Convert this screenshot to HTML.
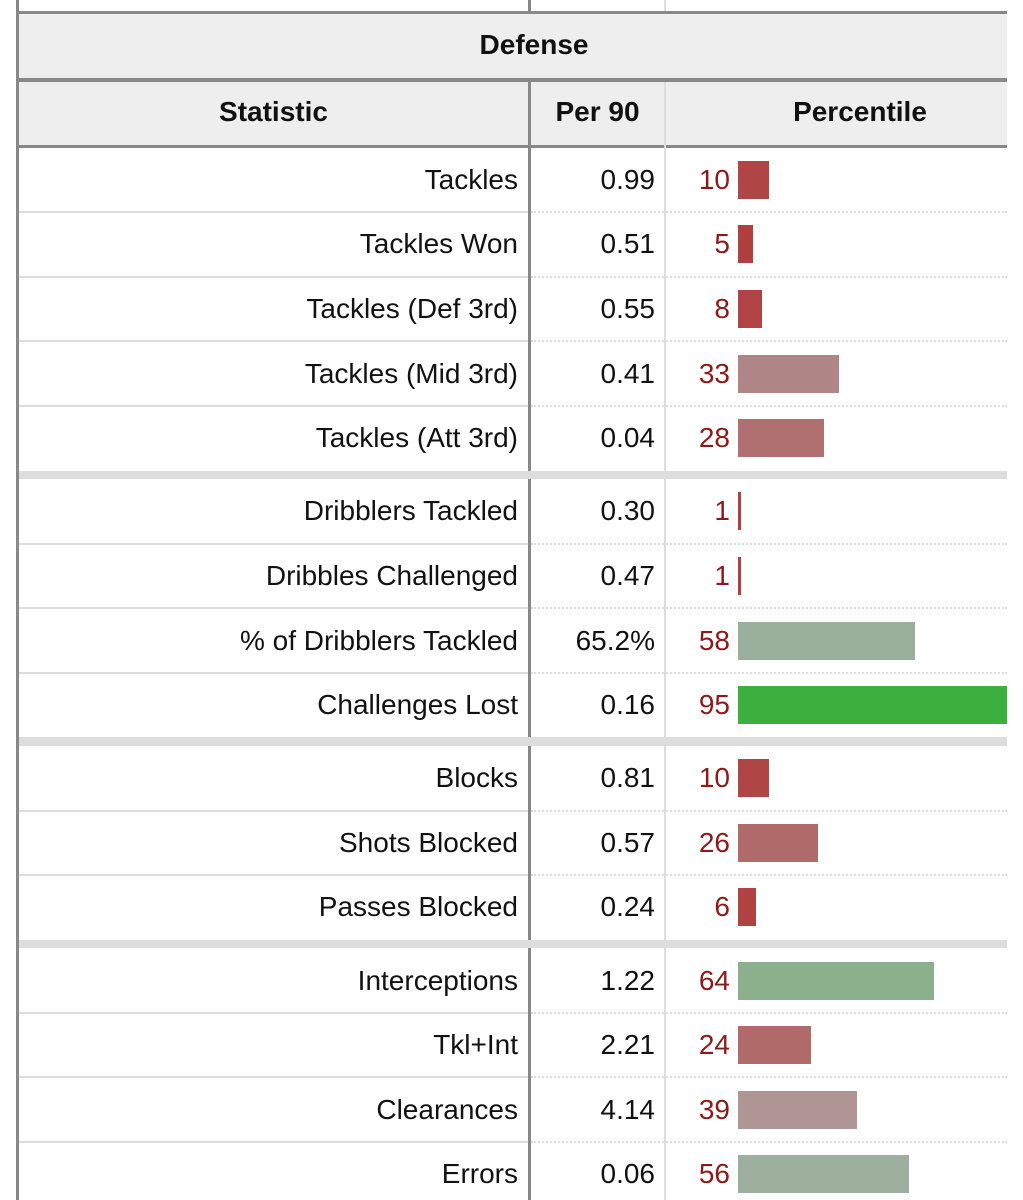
<!DOCTYPE html>
<html><head><meta charset="utf-8"><style>
body{margin:0;width:1023px;height:1200px;overflow:hidden;background:#fff;font-family:"Liberation Sans",sans-serif;position:relative}
.a{position:absolute}
.t{font-size:28px;color:#111;white-space:nowrap;line-height:30px}
</style></head><body>
<div id="root" class="a" style="left:0;top:0;width:1023px;height:1200px">
<div class="a" style="left:16px;top:0;width:3px;height:1200px;background:#888"></div>
<div class="a" style="left:528px;top:0;width:3px;height:12px;background:#888"></div>
<div class="a" style="left:664px;top:0;width:2px;height:12px;background:#ddd"></div>
<div class="a" style="left:16px;top:11px;width:991px;height:3px;background:#888"></div>
<div class="a" style="left:19px;top:14px;width:988px;height:64px;background:#eee"></div>
<div class="a t" style="left:19px;top:30px;width:1030px;text-align:center;font-weight:bold">Defense</div>
<div class="a" style="left:16px;top:78px;width:991px;height:4px;background:#888"></div>
<div class="a" style="left:19px;top:82px;width:988px;height:63px;background:#eee"></div>
<div class="a t" style="left:19px;top:97px;width:509px;text-align:center;font-weight:bold">Statistic</div>
<div class="a t" style="left:531px;top:97px;width:133px;text-align:center;font-weight:bold">Per 90</div>
<div class="a t" style="left:666px;top:97px;width:388px;text-align:center;font-weight:bold">Percentile</div>
<div class="a" style="left:16px;top:145px;width:991px;height:3px;background:#888"></div>
<div class="a" style="left:528px;top:82px;width:3px;height:1118px;background:#888"></div>
<div class="a" style="left:664px;top:82px;width:2px;height:1118px;background:#ddd"></div>
</div>
<script>
const stats=["Tackles","Tackles Won","Tackles (Def 3rd)","Tackles (Mid 3rd)","Tackles (Att 3rd)","Dribblers Tackled","Dribbles Challenged","% of Dribblers Tackled","Challenges Lost","Blocks","Shots Blocked","Passes Blocked","Interceptions","Tkl+Int","Clearances","Errors"];
const per90=["0.99","0.51","0.55","0.41","0.04","0.30","0.47","65.2%","0.16","0.81","0.57","0.24","1.22","2.21","4.14","0.06"];
const percentiles=[10,5,8,33,28,1,1,58,95,10,26,6,64,24,39,56];
const groupSizes=[5,4,3,4];
const barColors=["#b04545","#b04040","#b04444","#b08585","#b07070","#b04040","#b04040","#9bb09b","#3daf3f","#b04545","#b06a6a","#b04242","#8bb08b","#b06a6a","#b09595","#9db09d"];
const root=document.getElementById('root');
const RH=64.6,BAND=8.5,BX=738,SC=3.06;
function mk(css){const d=document.createElement('div');d.className='a';d.style.cssText=css;root.appendChild(d);return d;}
let y=147.5,i=0;
groupSizes.forEach((n,g)=>{
  if(g>0){const b=mk(`left:19px;top:${y}px;width:988px;height:${BAND}px;background:#ddd`);
    
    
    y+=BAND;}
  for(let k=0;k<n;k++,i++){
    const cy=y+RH/2;
    const l=mk(`left:19px;top:${cy-15}px;width:499px;text-align:right`);l.classList.add('t');l.textContent=stats[i];
    
    
    const v=mk(`left:531px;top:${cy-15}px;width:124px;text-align:right`);v.classList.add('t');v.textContent=per90[i];
    
    
    const p=mk(`left:666px;top:${cy-15}px;width:64px;text-align:right;color:#8b1a1a`);p.classList.add('t');p.textContent=percentiles[i];
    
    
    const w=Math.min(Math.max(percentiles[i]*SC,3),1007-BX);
    const bar=mk(`left:${BX}px;top:${cy-19}px;width:${w}px;height:38px;background:${barColors[i]}`);
    
    
    y+=RH;
    if(k<n-1){
      const s=mk(`left:19px;top:${y-1}px;width:509px;height:2px;background:#ddd`);
      
      
      const d=mk(`left:531px;top:${y-1}px;width:476px;height:0;border-top:2px dotted #ddd`);
      
      
    }
  }
});
</script>
</body></html>
